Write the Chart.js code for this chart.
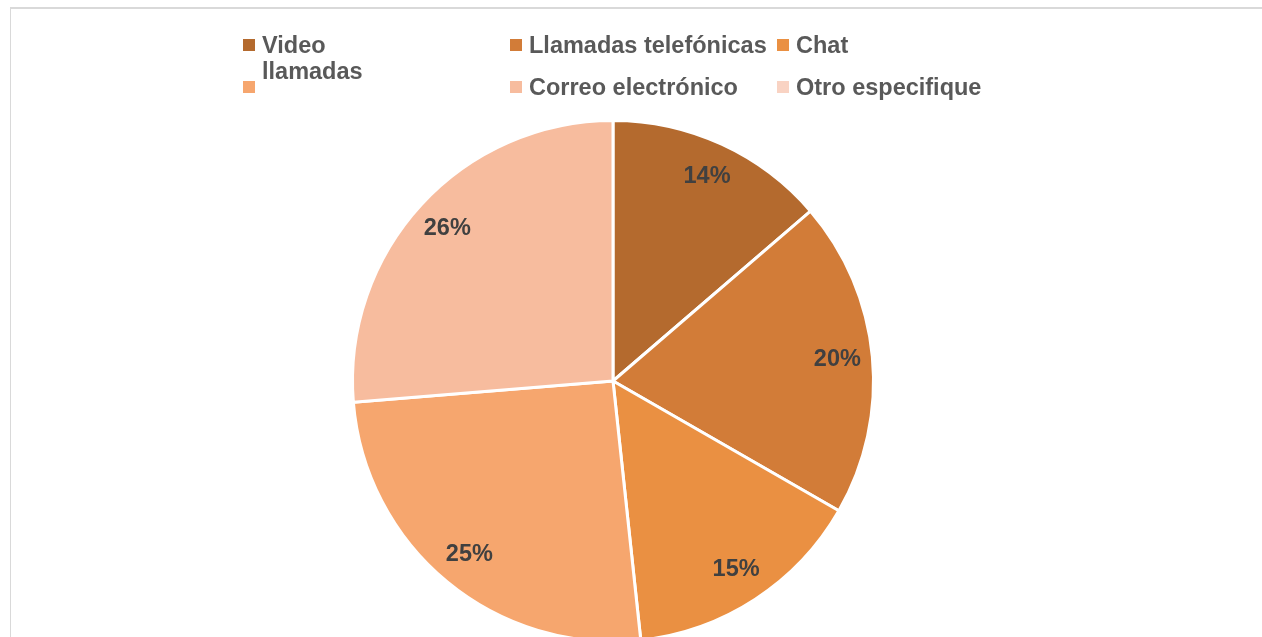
<!DOCTYPE html>
<html>
<head>
<meta charset="utf-8">
<script src="https://cdn.jsdelivr.net/npm/chart.js@4.4.0/dist/chart.umd.min.js"></script>
<style>
  html, body { margin: 0; padding: 0; background: #fff; overflow: hidden; }
  #page { position: relative; width: 1262px; height: 637px; overflow: hidden; }
  #frame { position: absolute; left: 10px; top: 7px; width: 1300px; height: 700px;
           border-top: 2px solid #d9d9d9; border-left: 1px solid #d9d9d9; }
  #wrap { position: absolute; left: 0; top: 0; width: 1262px; height: 800px; }
  #legend { position: absolute; left: 0; top: 0; width: 1262px; height: 110px;
            font-family: "Liberation Sans", Arial, sans-serif; font-weight: bold;
            font-size: 23.5px; color: #595959; }
  .item { position: absolute; line-height: 26px; white-space: nowrap; }
  .box { position: absolute; width: 12px; height: 12px; }
  .txt { position: absolute; left: 19px; top: 0; }
</style>
</head>
<body>
<div id="page">
  <div id="frame"></div>
  <div id="wrap"><canvas id="pie"></canvas></div>
  <div id="legend"></div>
</div>
<script>
const categories = [['Video', 'llamadas'], 'Llamadas telefónicas', 'Chat', '', 'Correo electrónico', 'Otro especifique'];
const shares = [13.7, 19.6, 15.0, 25.4, 26.3, 0];
const sliceColors = ['#b46a2e', '#d27c38', '#ea9042', '#f6a66e', '#f7bc9e', '#f9d3c3'];

// draws the percent text inside each slice
const sliceLabels = {
  id: 'sliceLabels',
  afterDatasetsDraw(chart) {
    const ctx = chart.ctx;
    const meta = chart.getDatasetMeta(0);
    const data = chart.data.datasets[0].data;
    const total = data.reduce((a, b) => a + b, 0);
    ctx.save();
    ctx.font = 'bold 23.5px "Liberation Sans", Arial, sans-serif';
    ctx.fillStyle = '#404040';
    ctx.textAlign = 'center';
    ctx.textBaseline = 'middle';
    meta.data.forEach((arc, i) => {
      if (!data[i]) return;
      const { x, y, startAngle, endAngle, outerRadius } = arc.getProps(['x', 'y', 'startAngle', 'endAngle', 'outerRadius'], true);
      const mid = (startAngle + endAngle) / 2;
      const r = outerRadius * 0.865;
      ctx.fillText(Math.round(data[i] / total * 100) + '%', x + Math.cos(mid) * r, y + Math.sin(mid) * r);
    });
    ctx.restore();
  }
};

const chart = new Chart(document.getElementById('pie'), {
  type: 'pie',
  data: {
    labels: categories,
    datasets: [{
      data: shares,
      backgroundColor: sliceColors,
      borderColor: '#ffffff',
      borderWidth: 3
    }]
  },
  options: {
    responsive: true,
    maintainAspectRatio: false,
    animation: false,
    layout: { padding: { left: 351, top: 119, right: 387, bottom: 157 } },
    plugins: {
      legend: { display: false },
      tooltip: { enabled: false }
    }
  },
  plugins: [sliceLabels]
});

// html legend, three columns like the original
const legendEl = document.getElementById('legend');
chart.options.plugins.legend.labels.generateLabels(chart).forEach((item, i) => {
  const col = i % 3, row = Math.floor(i / 3);
  const div = document.createElement('div');
  div.className = 'item';
  div.style.left = (243 + col * 267) + 'px';
  div.style.top = (32 + row * 42) + 'px';
  const lab = categories[i];
  const text = Array.isArray(lab) ? lab.join('<br>') : lab;
  div.innerHTML = '<span class="box" style="top:7px;background:' + sliceColors[i] + '"></span>' +
                  '<span class="txt">' + text + '</span>';
  legendEl.appendChild(div);
});
</script>
</body>
</html>
